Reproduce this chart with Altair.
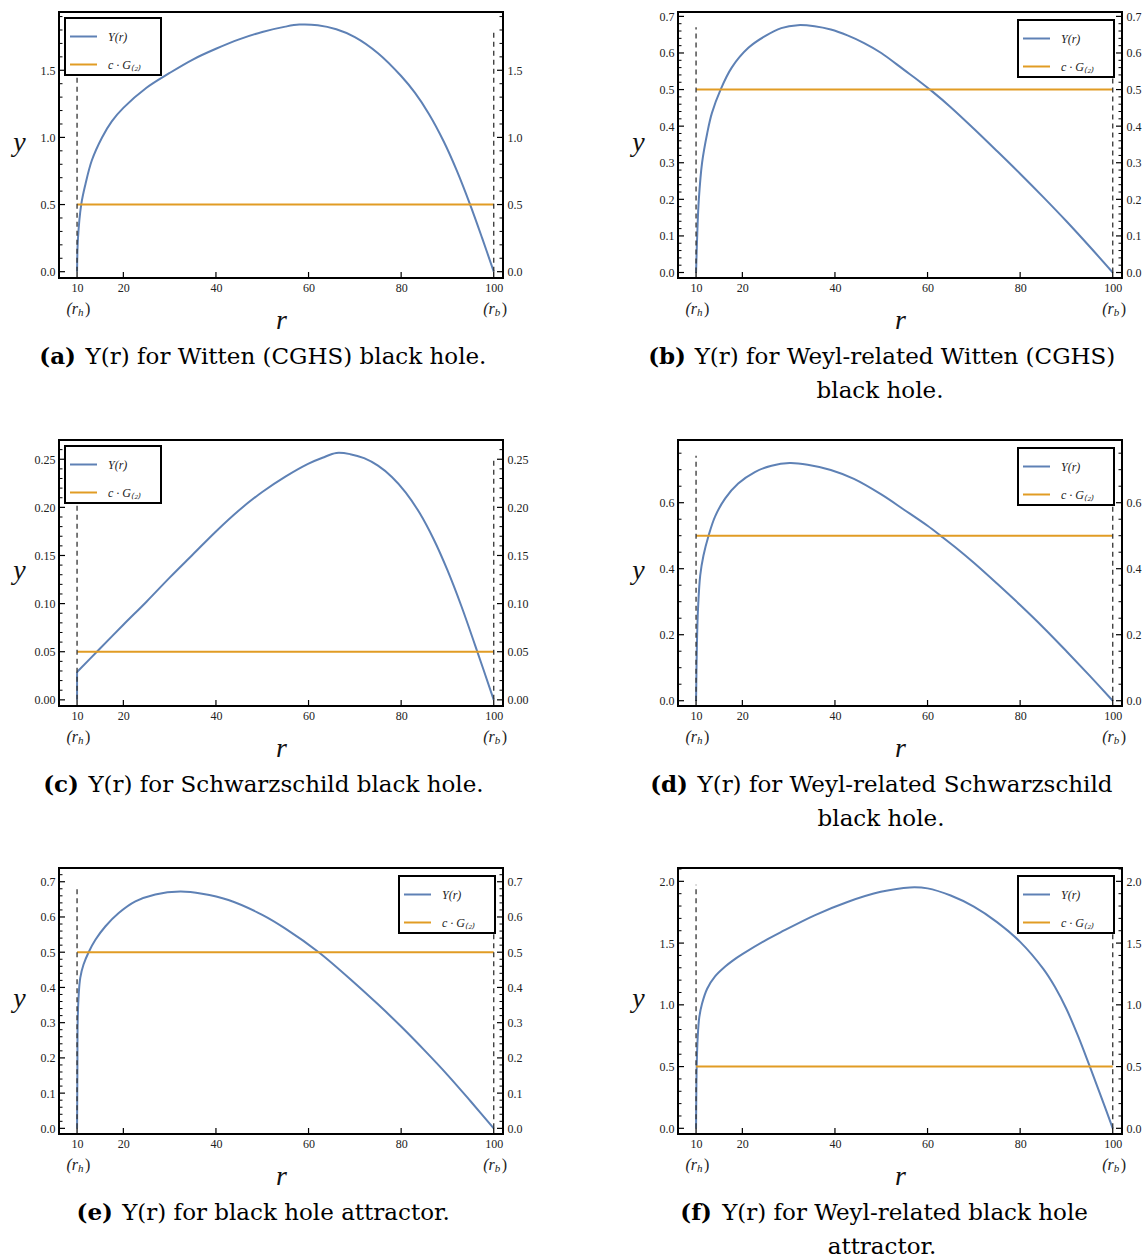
import altair as alt
import pandas as pd

# ---------------- layout / style ----------------
W, H = 444, 266
XDOM = [6.1, 102.0]
X_TICKS = [10, 20, 40, 60, 80, 100]
BLUE = "#5E81B5"
ORANGE = "#E19C24"
SERIES = ["Y(r)", "c · G₍₂₎"]
TICK_FONT = "Liberation Serif"
CAP_FONT = "DejaVu Serif"
CAP_SIZE = 23
CAP_CENTER = 227

# ---------------- data ----------------
R_A = [10, 10.2, 10.9, 11.8, 13.2, 15.4, 17.5, 20, 25, 30, 35, 40, 45, 50, 55, 58, 62, 66, 70, 75, 80, 83, 86, 89.2, 92, 94.9, 97.5, 100]
Y_A = [0, 0.25, 0.5, 0.65, 0.83, 1.0, 1.12, 1.22, 1.37, 1.48, 1.58, 1.66, 1.73, 1.785, 1.825, 1.84, 1.835, 1.805, 1.747, 1.627, 1.457, 1.331, 1.175, 0.97, 0.755, 0.5, 0.25, 0]

R_B = [10, 10.3, 10.6, 11.3, 12.4, 13.4, 15.3, 17.7, 21.3, 24.9, 28.4, 32, 35.6, 39.1, 42.7, 46.3, 50, 55, 58, 61, 65, 70, 75, 80, 85, 90, 95, 100]
Y_B = [0, 0.12, 0.20, 0.30, 0.38, 0.435, 0.50, 0.56, 0.614, 0.646, 0.668, 0.676, 0.673, 0.664, 0.648, 0.627, 0.60, 0.553, 0.525, 0.495, 0.452, 0.393, 0.332, 0.27, 0.206, 0.14, 0.071, 0]

# panel (c): vertical jump at r_h, then the smooth curve
R_C_JUMP = [10, 10]
Y_C_JUMP = [0, 0.029]
R_C = [10, 14.7, 20, 25, 30, 35, 40, 45, 50, 55, 60, 63, 66, 69, 72, 75, 78, 81, 84, 87, 90, 93, 96, 100]
Y_C = [0.029, 0.052, 0.078, 0.102, 0.127, 0.151, 0.175, 0.197, 0.216, 0.232, 0.2455, 0.2515, 0.2565, 0.2553, 0.2511, 0.2433, 0.2316, 0.2154, 0.1941, 0.1671, 0.1347, 0.0975, 0.0564, 0]

R_D = [10, 10.2, 10.43, 10.9, 11.6, 12.7, 14.1, 16.3, 19.1, 22.7, 26.3, 30.2, 34.1, 39.1, 44.1, 50, 55, 60, 63, 66, 70, 75, 80, 85, 90, 95, 100]
Y_D = [0, 0.18, 0.28, 0.38, 0.44, 0.50, 0.558, 0.613, 0.658, 0.693, 0.712, 0.72, 0.715, 0.699, 0.672, 0.625, 0.578, 0.53, 0.498, 0.465, 0.418, 0.355, 0.29, 0.222, 0.15, 0.076, 0]

R_E = [10, 10.07, 10.14, 10.36, 10.7, 11.4, 12.5, 14.0, 16.1, 19, 22.6, 26.9, 32.3, 37, 42.7, 50, 55, 62.2, 70, 75, 80, 85, 90, 95, 100]
Y_E = [0, 0.16, 0.305, 0.38, 0.428, 0.465, 0.50, 0.536, 0.573, 0.611, 0.644, 0.664, 0.672, 0.666, 0.648, 0.606, 0.567, 0.50, 0.412, 0.352, 0.289, 0.222, 0.152, 0.077, 0]

R_F = [10, 10.14, 10.36, 10.7, 11.3, 12.4, 14.1, 16.3, 18, 20, 24.9, 28.4, 35.6, 42.7, 49.9, 56.2, 60, 65, 70, 75, 80, 85, 87.5, 90, 92.5, 95, 97.5, 100]
Y_F = [0, 0.5, 0.74, 0.90, 1.01, 1.13, 1.23, 1.31, 1.36, 1.41, 1.52, 1.59, 1.725, 1.833, 1.915, 1.951, 1.943, 1.885, 1.795, 1.67, 1.51, 1.291, 1.146, 0.966, 0.748, 0.505, 0.255, 0]

MARKERS = [10, 100]          # r_h and r_b
MARKER_SUB = ["h", "b"]


def minor_ticks(stop, step, majors):
    vals = []
    k = 0
    while k * step <= stop + 1e-9:
        v = round(k * step, 4)
        if all(abs(v - m) > 1e-6 for m in majors):
            vals.append(v)
        k += 1
    return vals


PANELS = [
    dict(r=R_A, y=Y_A, jr=[], jy=[], level=0.5, ydom=[-0.047, 1.934], yt=[0, 0.5, 1.0, 1.5], mstep=0.1, mstop=1.9,
         fmt=".1f", dash_top=1.8, leg=("top-left", 6), lab="(a)", lab_x=17,
         text="Y(r) for Witten (CGHS) black hole.", line2=None, c2=0),
    dict(r=R_B, y=Y_B, jr=[], jy=[], level=0.5, ydom=[-0.015, 0.712], yt=[0, 0.1, 0.2, 0.3, 0.4, 0.5, 0.6, 0.7], mstep=0.02, mstop=0.70,
         fmt=".1f", dash_top=0.67, leg=("top-right", 8), lab="(b)", lab_x=8,
         text="Y(r) for Weyl-related Witten (CGHS)", line2="black hole.", c2=202),
    dict(r=R_C, y=Y_C, jr=R_C_JUMP, jy=Y_C_JUMP, level=0.05, ydom=[-0.0064, 0.270], yt=[0, 0.05, 0.10, 0.15, 0.20, 0.25], mstep=0.01, mstop=0.27,
         fmt=".2f", dash_top=0.25, leg=("top-left", 6), lab="(c)", lab_x=20,
         text="Y(r) for Schwarzschild black hole.", line2=None, c2=0),
    dict(r=R_D, y=Y_D, jr=[], jy=[], level=0.5, ydom=[-0.016, 0.79], yt=[0, 0.2, 0.4, 0.6], mstep=0.05, mstop=0.75,
         fmt=".1f", dash_top=0.742, leg=("top-right", 8), lab="(d)", lab_x=10,
         text="Y(r) for Weyl-related Schwarzschild", line2="black hole.", c2=203),
    dict(r=R_E, y=Y_E, jr=[], jy=[], level=0.5, ydom=[-0.016, 0.739], yt=[0, 0.1, 0.2, 0.3, 0.4, 0.5, 0.6, 0.7], mstep=0.02, mstop=0.72,
         fmt=".1f", dash_top=0.69, leg=("top-right", 8), lab="(e)", lab_x=54,
         text="Y(r) for black hole attractor.", line2=None, c2=0),
    dict(r=R_F, y=Y_F, jr=[], jy=[], level=0.5, ydom=[-0.046, 2.108], yt=[0, 0.5, 1.0, 1.5, 2.0], mstep=0.1, mstop=2.1,
         fmt=".1f", dash_top=1.973, leg=("top-right", 8), lab="(f)", lab_x=34,
         text="Y(r) for Weyl-related black hole", line2="attractor.", c2=204),
]


def make_legend(orient, offset):
    return alt.Legend(
        title=None, orient=orient, offset=offset, padding=4,
        strokeColor="black", fillColor="white", cornerRadius=0,
        symbolType="stroke", symbolSize=729, symbolStrokeWidth=2,
        labelFont=TICK_FONT, labelFontSize=12, labelFontStyle="italic",
        labelColor="#222", labelOffset=10, rowPadding=7,
        labelExpr="datum.label + '\u00a0\u00a0\u00a0\u00a0\u00a0\u200b'",
    )


def make_panel(p):
    xsc = alt.Scale(domain=XDOM, nice=False, zero=False)
    ysc = alt.Scale(domain=p["ydom"], nice=False, zero=False)

    def xnone(f):
        return alt.X(f, type="quantitative", scale=xsc, axis=None)

    def ynone(f):
        return alt.Y(f, type="quantitative", scale=ysc, axis=None)

    n, nj = len(p["r"]), len(p["jr"])
    line_df = pd.DataFrame({
        "r": list(p["jr"]) + list(p["r"]) + MARKERS,
        "y": list(p["jy"]) + list(p["y"]) + [p["level"], p["level"]],
        "s": [SERIES[0]] * (nj + n) + [SERIES[1]] * 2,
        "part": ["jump"] * nj + ["curve"] * n + ["level"] * 2,
    })
    lines = alt.Chart(line_df).mark_line(strokeWidth=2, interpolate="catmull-rom").encode(
        x=alt.X("r", type="quantitative", scale=xsc,
                axis=alt.Axis(values=X_TICKS, title="r", titleX=W / 2, titleY=42,
                              titleAlign="center", titleBaseline="middle")),
        y=alt.Y("y", type="quantitative", scale=ysc,
                axis=alt.Axis(orient="left", values=p["yt"], format=p["fmt"], title="y",
                              titleAngle=0, titleX=-40, titleY=H / 2 - 3,
                              titleAlign="center", titleBaseline="middle")),
        color=alt.Color("s", type="nominal", scale=alt.Scale(domain=SERIES, range=[BLUE, ORANGE]),
                        legend=make_legend(*p["leg"])),
        detail="part:N",
    )

    dash_df = pd.DataFrame({"r": MARKERS, "lo": [0, 0], "hi": [p["dash_top"]] * 2})
    dash = alt.Chart(dash_df).mark_rule(strokeDash=[5, 4], color="#333", strokeWidth=1.3).encode(
        x=xnone("r"), y=ynone("lo"), y2="hi"
    )

    maj_df = pd.DataFrame({"v": p["yt"]})
    min_df = pd.DataFrame({"v": minor_ticks(p["mstop"], p["mstep"], p["yt"])})
    xt_df = pd.DataFrame({"v": X_TICKS})

    left_major = alt.Chart(maj_df).mark_rule(color="black", strokeWidth=1.2).encode(
        x=alt.value(0), x2=alt.value(6), y=ynone("v"))
    left_minor = alt.Chart(min_df).mark_rule(color="black", strokeWidth=1).encode(
        x=alt.value(0), x2=alt.value(3.5), y=ynone("v"))
    right_minor = alt.Chart(min_df).mark_rule(color="black", strokeWidth=1).encode(
        x=alt.value(W - 3.5), x2=alt.value(W), y=ynone("v"))
    bottom = alt.Chart(xt_df).mark_rule(color="black", strokeWidth=1.2).encode(
        x=xnone("v"), y=alt.value(H - 6), y2=alt.value(H))
    right_major = alt.Chart(maj_df).mark_rule(color="black", strokeWidth=1.2).encode(
        x=alt.value(W - 6), x2=alt.value(W),
        y=alt.Y("v", type="quantitative", scale=ysc,
                axis=alt.Axis(orient="right", values=p["yt"], format=p["fmt"], title=None)))

    sub_df = pd.DataFrame({"r": MARKERS, "sub": MARKER_SUB})
    t_open = alt.Chart(sub_df).mark_text(text="(r", align="right", baseline="middle", dx=1,
                                         font=TICK_FONT, fontSize=16, fontStyle="italic", color="#222").encode(
        x=xnone("r"), y=alt.value(H + 31))
    t_sub = alt.Chart(sub_df).mark_text(align="left", baseline="middle", dx=1, dy=4,
                                        font=TICK_FONT, fontSize=11, fontStyle="italic", color="#222").encode(
        x=xnone("r"), y=alt.value(H + 31), text="sub:N")
    t_close = alt.Chart(sub_df).mark_text(text=")", align="left", baseline="middle", dx=8,
                                          font=TICK_FONT, fontSize=16, color="#222").encode(
        x=xnone("r"), y=alt.value(H + 31))

    one = pd.DataFrame({"k": [0]})
    cap_lab = alt.Chart(one).mark_text(text=p["lab"], align="right", baseline="middle",
                                       font=CAP_FONT, fontSize=CAP_SIZE, fontWeight="bold", color="black").encode(
        x=alt.value(p["lab_x"]), y=alt.value(345))
    cap_txt = alt.Chart(one).mark_text(text=p["text"], align="center", baseline="middle",
                                       font=CAP_FONT, fontSize=CAP_SIZE, color="black").encode(
        x=alt.value(CAP_CENTER), y=alt.value(345))
    layers = [lines, dash, left_major, left_minor, right_minor, bottom, right_major,
              t_open, t_sub, t_close, cap_lab, cap_txt]
    if p["line2"]:
        cap2 = alt.Chart(one).mark_text(text=p["line2"], align="center", baseline="middle",
                                        font=CAP_FONT, fontSize=CAP_SIZE, color="black").encode(
            x=alt.value(p["c2"]), y=alt.value(379))
        layers.append(cap2)

    return alt.layer(*layers).resolve_axis(x="independent", y="independent").properties(width=W, height=H)


chart = alt.concat(
    *[make_panel(p) for p in PANELS],
    columns=2,
    spacing={"row": 162, "column": 175},
    bounds="flush",
).resolve_scale(color="independent").resolve_legend(color="independent").configure_view(
    stroke="black", strokeWidth=2
).configure_axis(
    labelFont=TICK_FONT, labelFontSize=12, labelColor="#222", ticks=False, domain=False,
    grid=False, labelPadding=4, labelFlush=False, labelOverlap=False,
    titleFont=TICK_FONT, titleFontSize=28, titleFontStyle="italic", titleFontWeight="normal",
    titleColor="#111",
).configure_legend(strokeWidth=2).properties(
    padding={"left": 11, "top": 9, "right": 0, "bottom": 0}
)

chart.save("out.html", embed_options={"renderer": "svg", "actions": False})
